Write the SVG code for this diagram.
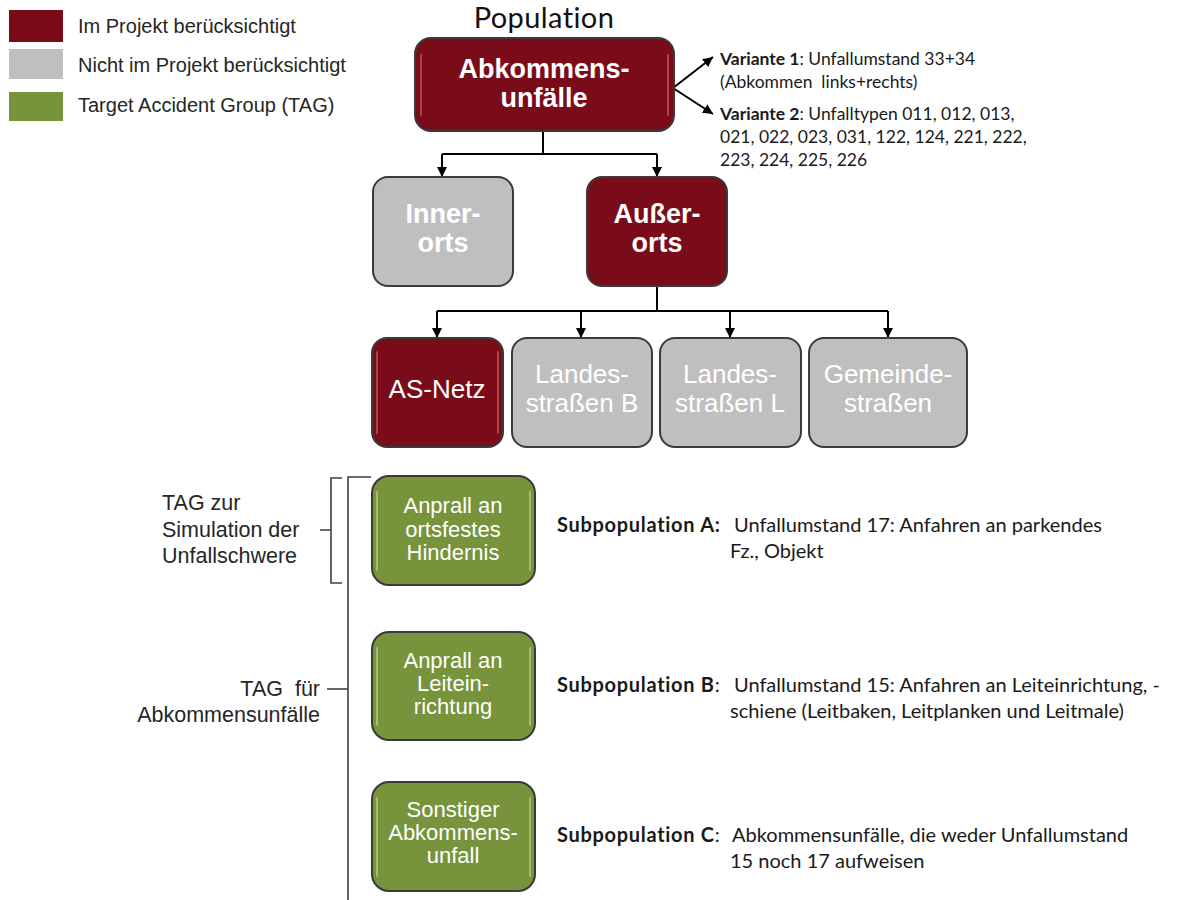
<svg xmlns="http://www.w3.org/2000/svg" width="1184" height="900" viewBox="0 0 1184 900">
<defs>
<marker id="ah" viewBox="0 0 10 10" refX="10" refY="5" markerWidth="10" markerHeight="10" markerUnits="userSpaceOnUse" orient="auto">
<path d="M0,0 L10,5 L0,10 z" fill="#000"/>
</marker>
<style>
.box{stroke:#3a3a3a;stroke-width:2}
.red{fill:#7a0c1a}
.gray{fill:#bfbfbf}
.green{fill:#77933c}
.hl{stroke-width:2;fill:none;stroke-linecap:round}
.hlr{stroke:#b0404e}
.hlg{stroke:#a3bd6a}
.lt{font-family:"Liberation Sans",Arial,sans-serif;font-size:20px;fill:#262626}
.bw{font-family:"Liberation Sans",Arial,sans-serif;font-weight:bold;font-size:27px;fill:#fff;text-anchor:middle}
.rw{font-family:"Liberation Sans",Arial,sans-serif;font-size:26px;fill:#fff;text-anchor:middle}
.gw{font-family:"Liberation Sans",Arial,sans-serif;font-size:22px;fill:#fff;text-anchor:middle}
.side{font-family:"Liberation Sans",Arial,sans-serif;font-size:21.5px;fill:#262626}
.var{font-family:Lato,"Open Sans",sans-serif;font-size:17.5px;fill:#1a1a1a}
.sub{font-family:Lato,"Open Sans",sans-serif;font-size:20px;fill:#1a1a1a}
.b{font-weight:bold}
.sb{font-weight:bold;letter-spacing:0.7px}
.conn{stroke:#000;stroke-width:2;fill:none}
.br{stroke:#404040;stroke-width:1.6;fill:none}
</style>
</defs>

<g id="legend">
<rect x="9" y="10" width="54" height="32" fill="#7a0c1a"/>
<rect x="9" y="49" width="54" height="30" fill="#bfbfbf"/>
<rect x="9" y="92" width="54" height="29" fill="#77933c"/>
<text class="lt" x="78" y="33">Im Projekt berücksichtigt</text>
<text class="lt" x="78" y="72">Nicht im Projekt berücksichtigt</text>
<text class="lt" x="78" y="112">Target Accident Group (TAG)</text>
</g>

<g id="title">
<text x="544" y="28" font-family="Lato,'Open Sans',sans-serif" font-size="29" fill="#111" text-anchor="middle" letter-spacing="0.4">Population</text>
</g>

<g id="connectors">
<path class="conn" d="M543,131 V154 M442,154 H657"/>
<path class="conn" d="M442,154 V177" marker-end="url(#ah)"/>
<path class="conn" d="M657,154 V177" marker-end="url(#ah)"/>
<path class="conn" d="M673,88 L713,57" marker-end="url(#ah)"/>
<path class="conn" d="M673,88 L713,114" marker-end="url(#ah)"/>
<path class="conn" d="M657,286 V311 M437,311 H888"/>
<path class="conn" d="M437,311 V338" marker-end="url(#ah)"/>
<path class="conn" d="M581,311 V338" marker-end="url(#ah)"/>
<path class="conn" d="M730,311 V338" marker-end="url(#ah)"/>
<path class="conn" d="M888,311 V338" marker-end="url(#ah)"/>
</g>

<g id="brackets">
<path class="br" d="M371,477 H348 V900"/>
<path class="br" d="M342,478 H331 V583 H342 M320,530 H331"/>
<path class="br" d="M327,689 H348"/>
</g>

<g id="abkommensunfaelle">
<rect class="box red" x="415" y="38" width="259" height="93" rx="16"/>
<path class="hl hlr" d="M421,55 V115 M668,55 V115"/>
<text class="bw" x="544" y="78">Abkommens-</text>
<text class="bw" x="544" y="107">unfälle</text>
</g>

<g id="varianten">
<text class="var" x="720" y="65"><tspan class="b">Variante 1</tspan>: Unfallumstand 33+34</text>
<text class="var" x="720" y="88" xml:space="preserve">(Abkommen  links+rechts)</text>
<text class="var" x="720" y="120"><tspan class="b">Variante 2</tspan>: Unfalltypen 011, 012, 013,</text>
<text class="var" x="720" y="143">021, 022, 023, 031, 122, 124, 221, 222,</text>
<text class="var" x="720" y="166">223, 224, 225, 226</text>
</g>

<g id="innerorts">
<rect class="box gray" x="373" y="177" width="140" height="109" rx="15"/>
<text class="bw" x="443" y="223">Inner-</text>
<text class="bw" x="443" y="252">orts</text>
</g>

<g id="ausserorts">
<rect class="box red" x="587" y="177" width="140" height="109" rx="15"/>
<text class="bw" x="657" y="223">Außer-</text>
<text class="bw" x="657" y="252">orts</text>
</g>

<g id="as-netz">
<rect class="box red" x="372" y="338" width="131" height="109" rx="15"/>
<path class="hl hlr" d="M377,352 V433 M498,352 V433"/>
<text class="rw" x="437" y="398">AS-Netz</text>
</g>

<g id="landesstrassen-b">
<rect class="box gray" x="512" y="338" width="140" height="109" rx="15"/>
<text class="rw" x="582" y="383">Landes-</text>
<text class="rw" x="582" y="412">straßen B</text>
</g>

<g id="landesstrassen-l">
<rect class="box gray" x="660" y="338" width="141" height="109" rx="15"/>
<text class="rw" x="730" y="383">Landes-</text>
<text class="rw" x="730" y="412">straßen L</text>
</g>

<g id="gemeindestrassen">
<rect class="box gray" x="809" y="338" width="158" height="109" rx="15"/>
<text class="rw" x="888" y="383">Gemeinde-</text>
<text class="rw" x="888" y="412">straßen</text>
</g>

<g id="tag-labels">
<text class="side" x="162" y="510">TAG zur</text>
<text class="side" x="162" y="537">Simulation der</text>
<text class="side" x="162" y="563">Unfallschwere</text>
<text class="side" x="320" y="696" text-anchor="end" xml:space="preserve">TAG  für</text>
<text class="side" x="320" y="722" text-anchor="end">Abkommensunfälle</text>
</g>

<g id="anprall-hindernis">
<rect class="box green" x="372" y="476" width="163" height="109" rx="17"/>
<path class="hl hlg" d="M377,492 V570 M530,492 V570"/>
<text class="gw" x="453" y="513">Anprall an</text>
<text class="gw" x="453" y="537">ortsfestes</text>
<text class="gw" x="453" y="560">Hindernis</text>
</g>

<g id="anprall-leiteinrichtung">
<rect class="box green" x="372" y="632" width="163" height="108" rx="17"/>
<path class="hl hlg" d="M377,648 V725 M530,648 V725"/>
<text class="gw" x="453" y="668">Anprall an</text>
<text class="gw" x="453" y="691">Leitein-</text>
<text class="gw" x="453" y="714">richtung</text>
</g>

<g id="sonstiger">
<rect class="box green" x="372" y="782" width="163" height="109" rx="17"/>
<path class="hl hlg" d="M377,798 V876 M530,798 V876"/>
<text class="gw" x="453" y="817">Sonstiger</text>
<text class="gw" x="453" y="840">Abkommens-</text>
<text class="gw" x="453" y="863">unfall</text>
</g>

<g id="subpopulationen">
<text class="sub" x="557" y="532"><tspan class="sb">Subpopulation A:</tspan><tspan x="734">Unfallumstand 17: Anfahren an parkendes</tspan></text>
<text class="sub" x="730" y="558">Fz., Objekt</text>
<text class="sub" x="557" y="692"><tspan class="sb">Subpopulation B</tspan>:<tspan x="734">Unfallumstand 15: Anfahren an Leiteinrichtung, -</tspan></text>
<text class="sub" x="730" y="718">schiene (Leitbaken, Leitplanken und Leitmale)</text>
<text class="sub" x="557" y="842"><tspan class="sb">Subpopulation C</tspan>:<tspan x="732">Abkommensunfälle, die weder Unfallumstand</tspan></text>
<text class="sub" x="730" y="868">15 noch 17 aufweisen</text>
</g>
</svg>
